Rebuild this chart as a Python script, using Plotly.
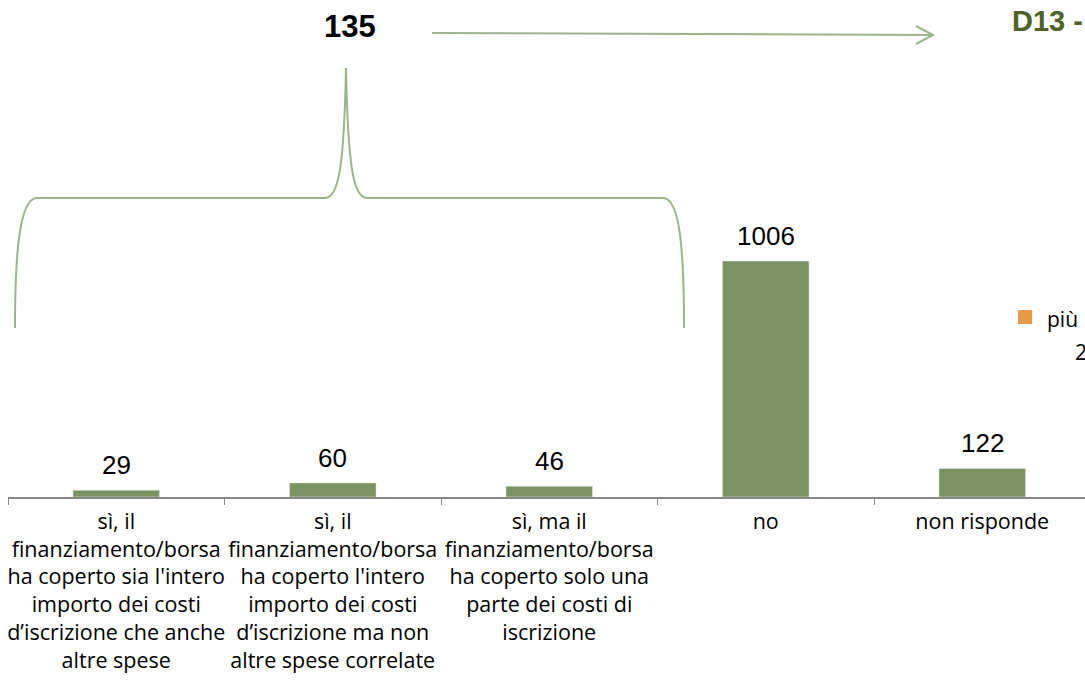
import plotly.graph_objects as go

# ---- data ----
categories = [
    "sì, il finanziamento/borsa ha coperto sia l'intero importo dei costi d’iscrizione che anche altre spese",
    "sì, il finanziamento/borsa ha coperto l'intero importo dei costi d’iscrizione ma non altre spese correlate",
    "sì, ma il finanziamento/borsa ha coperto solo una parte dei costi di iscrizione",
    "no",
    "non risponde",
]
tick_labels = [
    "sì, il<br>finanziamento/borsa<br>ha coperto sia l'intero<br>importo dei costi<br>d’iscrizione che anche<br>altre spese",
    "sì, il<br>finanziamento/borsa<br>ha coperto l'intero<br>importo dei costi<br>d’iscrizione ma non<br>altre spese correlate",
    "sì, ma il<br>finanziamento/borsa<br>ha coperto solo una<br>parte dei costi di<br>iscrizione",
    "no",
    "non risponde",
]
values = [29, 60, 46, 1006, 122]
total_si = 135
title_text = "D13 - "
legend_text = "più"
legend_text2 = "2"

W, H = 1085, 686
BAR = "#7B9362"
LINE = "#9DB58A"

def px(x, y):
    return f"{x / W:.5f},{1 - y / H:.5f}"

fig = go.Figure()
fig.add_trace(go.Bar(
    x=categories, y=values, marker_color=BAR, width=0.4,
    hoverinfo="x+y", showlegend=False,
))

# value labels
for c, v in zip(categories, values):
    fig.add_annotation(x=c, y=v, xref="x", yref="y", text=str(v), showarrow=False,
                       yanchor="bottom", yshift=8,
                       font=dict(family="Liberation Sans, Arial", size=26, color="#000000"))

# brace
brace = ("M " + px(15, 328) + " C " + px(15, 250) + " " + px(20, 198) + " " + px(37, 198) +
         " L " + px(325, 198) +
         " C " + px(339, 198) + " " + px(344, 165) + " " + px(346, 68) +
         " C " + px(348, 165) + " " + px(353, 198) + " " + px(367, 198) +
         " L " + px(663, 198) +
         " C " + px(680, 198) + " " + px(684, 250) + " " + px(684, 328))
fig.add_shape(type="path", xref="paper", yref="paper", path=brace,
              line=dict(color=LINE, width=2))

# arrow
arrow = ("M " + px(432, 33) + " L " + px(933, 35) +
         " M " + px(916, 26) + " L " + px(933, 35) + " L " + px(916, 44))
fig.add_shape(type="path", xref="paper", yref="paper", path=arrow,
              line=dict(color=LINE, width=2))

fig.add_annotation(x=350 / W, y=1 - 27 / H, xref="paper", yref="paper", text="<b>%d</b>" % total_si,
                   showarrow=False, xanchor="center", yanchor="middle",
                   font=dict(family="Liberation Sans, Arial", size=31, color="#000000"))
fig.add_annotation(x=1010 / W, y=1 - 21 / H, xref="paper", yref="paper", text="<b>" + title_text + "</b>",
                   showarrow=False, xanchor="left", yanchor="middle",
                   font=dict(family="Liberation Sans, Arial", size=29, color="#4F6228"))

# legend fragment
fig.add_shape(type="rect", xref="paper", yref="paper",
              x0=1018 / W, x1=1032 / W, y0=1 - 324 / H, y1=1 - 310 / H,
              fillcolor="#E8994A", line=dict(width=0))
fig.add_annotation(x=1045 / W, y=1 - 319 / H, xref="paper", yref="paper", text=legend_text,
                   showarrow=False, xanchor="left", yanchor="middle",
                   font=dict(family="Open Sans", size=21, color="#000000"))
fig.add_annotation(x=1073 / W, y=1 - 352 / H, xref="paper", yref="paper", text=legend_text2,
                   showarrow=False, xanchor="left", yanchor="middle",
                   font=dict(family="Open Sans", size=21, color="#000000"))

pitch = 216.5
x0 = 8
fig.update_layout(
    width=W, height=H,
    margin=dict(l=0, r=0, t=0, b=0, autoexpand=False),
    paper_bgcolor="white", plot_bgcolor="white",
    xaxis=dict(
        domain=[x0 / W, 1],
        range=[-0.5, -0.5 + (W - x0) / pitch],
        tickmode="array", tickvals=categories, ticktext=tick_labels,
        tickson="boundaries", ticks="outside", ticklen=6, tickcolor="#898989", tickwidth=1,
        showline=True, linecolor="#898989", linewidth=1.5,
        showgrid=False, zeroline=False,
        tickangle=0, automargin=False,
        tickfont=dict(family="Open Sans", size=21.5, color="#000000"),
        ticklabelstandoff=4,
    ),
    yaxis=dict(
        domain=[(H - 497) / H, 1],
        range=[0, 497 / ((497 - 261) / 1006)],
        visible=False, showgrid=False, zeroline=False, automargin=False,
    ),
)

fig.write_html("out.html", config={"displayModeBar": False},
               post_script="document.body.style.margin='0px';document.body.style.overflow='hidden';")
